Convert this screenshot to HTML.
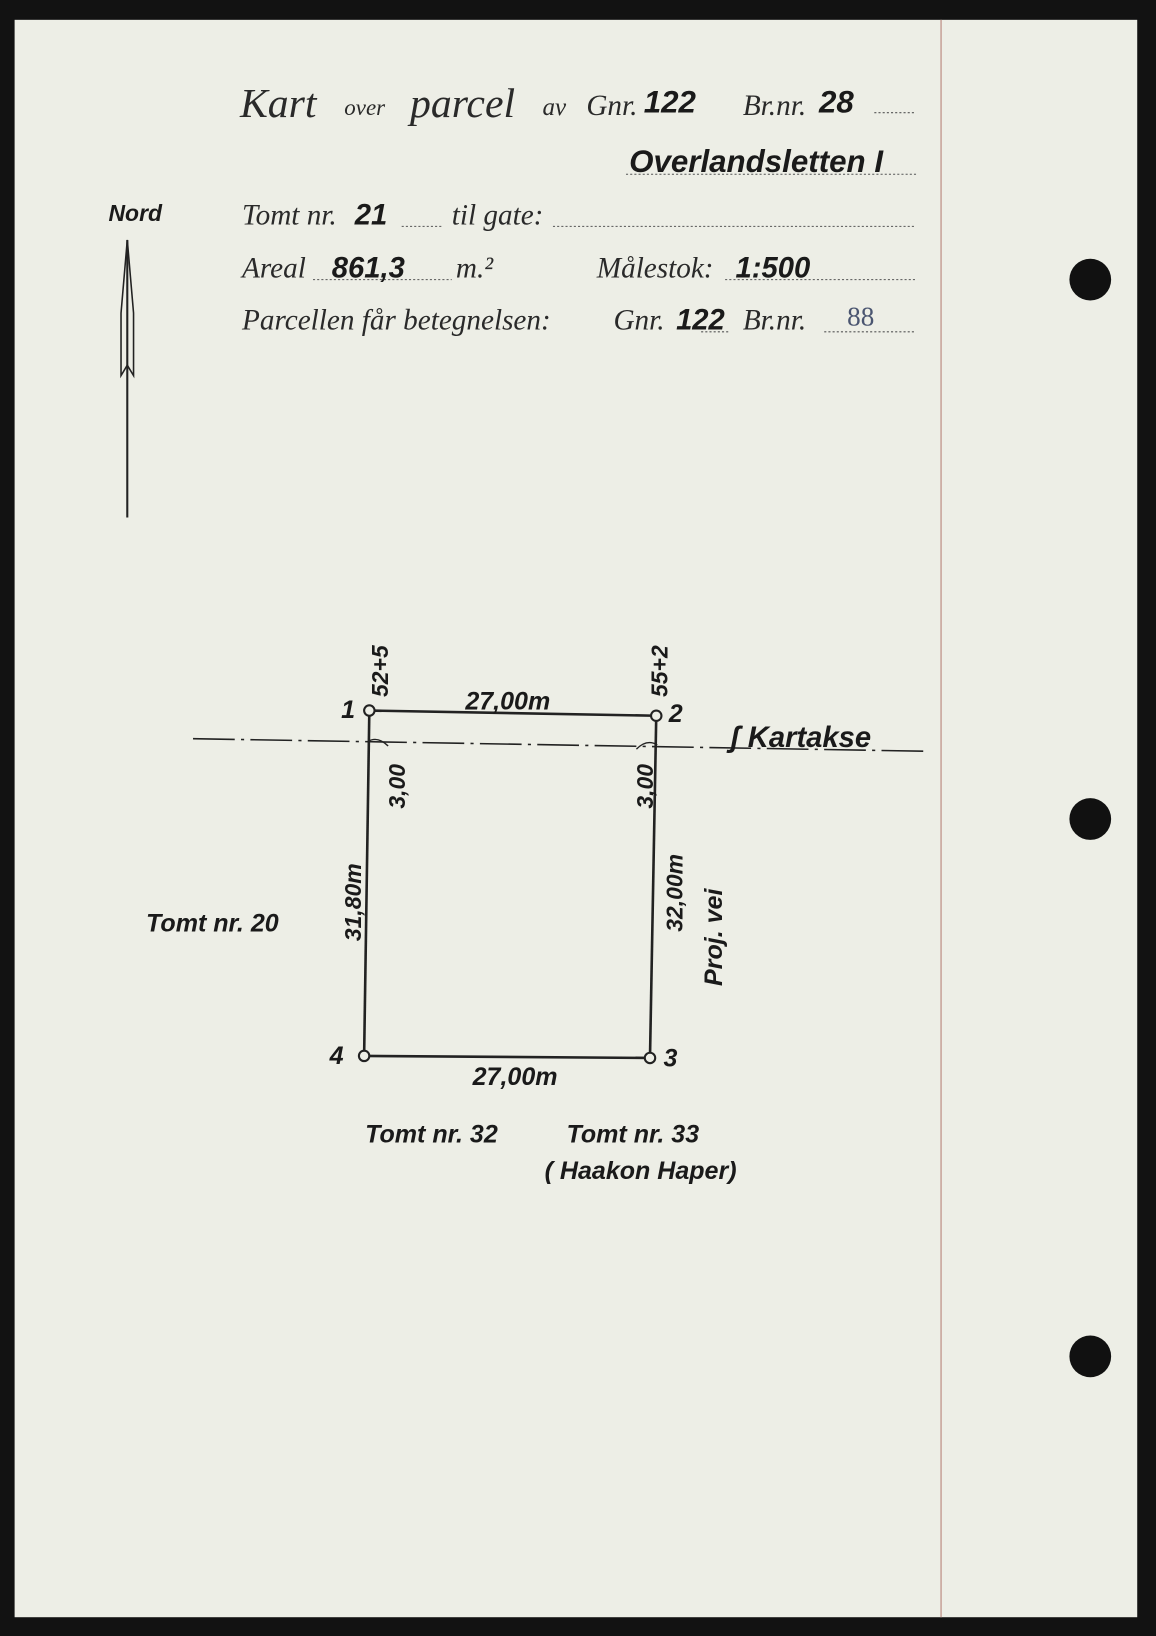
<!DOCTYPE html>
<html><head><meta charset="utf-8"><style>
html,body{margin:0;padding:0;background:#111;}
svg{display:block;}
text{font-family:"Liberation Serif",serif;fill:#2a2a2a;}
.h{font-family:"Liberation Sans",sans-serif;font-style:italic;fill:#1a1a1a;}
</style></head><body>
<svg width="1156" height="1636" viewBox="0 0 1108 1568" preserveAspectRatio="none" xmlns="http://www.w3.org/2000/svg">
<rect x="0" y="0" width="1108" height="1568" fill="#121212"/>
<rect x="14" y="19" width="1076" height="1531" fill="#edeee6"/>
<line x1="902" y1="19" x2="902" y2="1550" stroke="#c8a39a" stroke-width="1.5"/>
<circle cx="1045" cy="268" r="20" fill="#111"/>
<circle cx="1045" cy="785" r="20" fill="#111"/>
<circle cx="1045" cy="1300" r="20" fill="#111"/>

<g font-style="italic">
<text x="230" y="112" font-size="40">Kart</text>
<text x="330" y="110" font-size="22">over</text>
<text x="393" y="112" font-size="40">parcel</text>
<text x="520" y="110" font-size="24">av</text>
<text x="562" y="110" font-size="28">Gnr.</text>
<text x="712" y="110" font-size="28">Br.nr.</text>
<text x="232" y="215" font-size="28">Tomt nr.</text>
<text x="433" y="215" font-size="28">til gate:</text>
<text x="232" y="266" font-size="28">Areal</text>
<text x="437" y="266" font-size="28">m.²</text>
<text x="572" y="266" font-size="28">Målestok:</text>
<text x="232" y="316" font-size="28">Parcellen får betegnelsen:</text>
<text x="588" y="316" font-size="28">Gnr.</text>
<text x="712" y="316" font-size="28">Br.nr.</text>
</g>
<g stroke="#555" stroke-width="1" stroke-dasharray="2,2">
<line x1="838" y1="108" x2="878" y2="108"/>
<line x1="600" y1="167" x2="878" y2="167"/>
<line x1="385" y1="217" x2="425" y2="217"/>
<line x1="530" y1="217" x2="878" y2="217"/>
<line x1="300" y1="268" x2="433" y2="268"/>
<line x1="695" y1="268" x2="878" y2="268"/>
<line x1="672" y1="318" x2="700" y2="318"/>
<line x1="790" y1="318" x2="878" y2="318"/>
</g>
<text class="h" x="617" y="108" font-size="30" font-weight="bold">122</text>
<text class="h" x="785" y="108" font-size="30" font-weight="bold">28</text>
<text class="h" x="603" y="165" font-size="30" font-weight="bold">Overlandsletten I</text>
<text class="h" x="340" y="215" font-size="28" font-weight="bold">21</text>
<text class="h" x="318" y="266" font-size="28" font-weight="bold">861,3</text>
<text class="h" x="705" y="266" font-size="28" font-weight="bold">1:500</text>
<text class="h" x="648" y="316" font-size="28" font-weight="bold">122</text>
<text x="812" y="312" font-size="26" style="fill:#4a5570">88</text>

<text class="h" x="104" y="212" font-size="22" font-weight="bold">Nord</text>
<line x1="122" y1="230" x2="122" y2="496" stroke="#222" stroke-width="2"/>
<path d="M122 230 L116 300 L116 360 L122 350 L128 360 L128 300 Z" fill="none" stroke="#222" stroke-width="1.5"/>

<g stroke="#222" stroke-width="2.5" fill="none">
<line x1="354" y1="681" x2="629" y2="686"/>
<line x1="354" y1="681" x2="349" y2="1012"/>
<line x1="629" y1="686" x2="623" y2="1014"/>
<line x1="349" y1="1012" x2="623" y2="1014"/>
</g>
<g fill="#edeee6" stroke="#222" stroke-width="2">
<circle cx="354" cy="681" r="5"/><circle cx="629" cy="686" r="5"/>
<circle cx="349" cy="1012" r="5"/><circle cx="623" cy="1014" r="5"/>
</g>
<line x1="185" y1="708" x2="887" y2="720" stroke="#222" stroke-width="1.5" stroke-dasharray="40,6,3,6"/>
<path d="M352 711 q10 -6 20 4" stroke="#222" fill="none" stroke-width="1.3"/>
<path d="M630 714 q-10 -6 -20 4" stroke="#222" fill="none" stroke-width="1.3"/>

<g>
<text class="h" x="446" y="680" font-size="24" font-weight="bold">27,00m</text>
<text class="h" x="453" y="1040" font-size="24" font-weight="bold">27,00m</text>
<text class="h" x="327" y="688" font-size="24" font-weight="bold">1</text>
<text class="h" x="641" y="692" font-size="24" font-weight="bold">2</text>
<text class="h" x="636" y="1022" font-size="24" font-weight="bold">3</text>
<text class="h" x="316" y="1020" font-size="24" font-weight="bold">4</text>
<text class="h" x="700" y="716" font-size="28" font-weight="bold">ʃ Kartakse</text>
<text class="h" x="140" y="893" font-size="24" font-weight="bold">Tomt nr. 20</text>
<text class="h" x="350" y="1095" font-size="24" font-weight="bold">Tomt nr. 32</text>
<text class="h" x="543" y="1095" font-size="24" font-weight="bold">Tomt nr. 33</text>
<text class="h" x="522" y="1130" font-size="24" font-weight="bold">( Haakon Haper)</text>
<text class="h" transform="translate(372,668) rotate(-90)" font-size="22" font-weight="bold">52+5</text>
<text class="h" transform="translate(640,668) rotate(-90)" font-size="22" font-weight="bold">55+2</text>
<text class="h" transform="translate(388,775) rotate(-90)" font-size="22" font-weight="bold">3,00</text>
<text class="h" transform="translate(626,775) rotate(-90)" font-size="22" font-weight="bold">3,00</text>
<text class="h" transform="translate(346,902) rotate(-90)" font-size="22" font-weight="bold">31,80m</text>
<text class="h" transform="translate(654,893) rotate(-90)" font-size="22" font-weight="bold">32,00m</text>
<text class="h" transform="translate(692,945) rotate(-90)" font-size="24" font-weight="bold">Proj. vei</text>
</g>
</svg>
</body></html>
